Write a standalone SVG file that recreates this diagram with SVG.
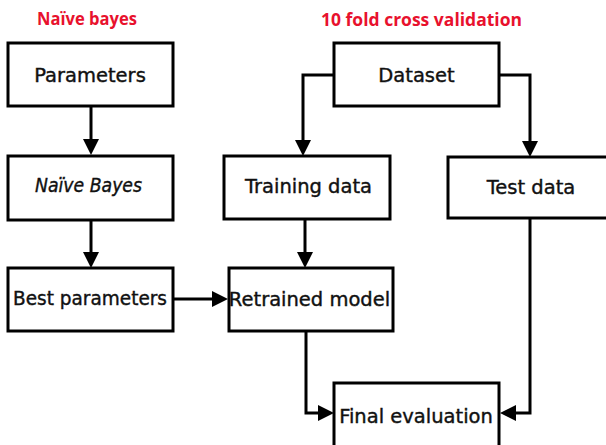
<svg xmlns="http://www.w3.org/2000/svg" width="606" height="445" viewBox="0 0 606 445">
  <style>
    .box { fill: #ffffff; stroke: #000000; stroke-width: 3; }
    .lbl { font-family: "DejaVu Sans", Verdana, sans-serif; font-size: 19.5px; fill: #111111; stroke: #111111; stroke-width: 0.4; text-anchor: middle; }
    .head { font-family: "Open Sans", "Liberation Sans", sans-serif; font-weight: bold; font-size: 17px; fill: #e8112d; text-anchor: middle; }
    .wire { fill: none; stroke: #000000; stroke-width: 3; }
  </style>
  <defs>
    <marker id="tri" markerUnits="userSpaceOnUse" markerWidth="16" markerHeight="16" refX="10" refY="8" orient="auto">
      <path d="M0,0 L16,8 L0,16 z" fill="#000000"/>
    </marker>
  </defs>
  <rect width="606" height="445" fill="#ffffff"/>

  <!-- section titles -->
  <text class="head" x="87" y="25" textLength="100" lengthAdjust="spacingAndGlyphs">Naïve bayes</text>
  <text class="head" x="421.5" y="26" textLength="201" lengthAdjust="spacingAndGlyphs">10 fold cross validation</text>

  <!-- connectors -->
  <g id="connectors">
    <line class="wire" x1="91" y1="106" x2="91" y2="149" marker-end="url(#tri)"/>
    <line class="wire" x1="91" y1="220" x2="91" y2="262" marker-end="url(#tri)"/>
    <line class="wire" x1="173" y1="299" x2="222" y2="299" marker-end="url(#tri)"/>
    <polyline class="wire" points="334,75 303,75 303,150" marker-end="url(#tri)"/>
    <polyline class="wire" points="499,75 530,75 530,151" marker-end="url(#tri)"/>
    <line class="wire" x1="305" y1="219" x2="305" y2="262" marker-end="url(#tri)"/>
    <polyline class="wire" points="306,331 306,413 328,413" marker-end="url(#tri)"/>
    <polyline class="wire" points="530,218 530,413 506,413" marker-end="url(#tri)"/>
  </g>

  <g id="parameters">
    <rect class="box" x="8" y="43" width="165" height="63"/>
    <text class="lbl" x="90" y="82">Parameters</text>
  </g>
  <g id="naive-bayes">
    <rect class="box" x="8" y="156" width="165" height="64"/>
    <text class="lbl" x="88.5" y="192" font-style="italic" font-size="17" textLength="107" lengthAdjust="spacingAndGlyphs">Naïve Bayes</text>
  </g>
  <g id="best-parameters">
    <rect class="box" x="8" y="268" width="165" height="63"/>
    <text class="lbl" x="90" y="305" font-size="17.5" textLength="154" lengthAdjust="spacingAndGlyphs">Best parameters</text>
  </g>
  <g id="dataset">
    <rect class="box" x="334" y="43" width="165" height="63"/>
    <text class="lbl" x="416.5" y="82">Dataset</text>
  </g>
  <g id="training-data">
    <rect class="box" x="224" y="156" width="166" height="63"/>
    <text class="lbl" x="308.5" y="193">Training data</text>
  </g>
  <g id="test-data">
    <rect class="box" x="448" y="157" width="170" height="61"/>
    <text class="lbl" x="531" y="194" font-size="18.7">Test data</text>
  </g>
  <g id="retrained-model">
    <rect class="box" x="229" y="268" width="164" height="63"/>
    <text class="lbl" x="309.5" y="306" font-size="18">Retrained model</text>
  </g>
  <g id="final-evaluation">
    <rect class="box" x="334" y="383" width="165" height="75"/>
    <text class="lbl" x="416" y="423">Final evaluation</text>
  </g>
</svg>
